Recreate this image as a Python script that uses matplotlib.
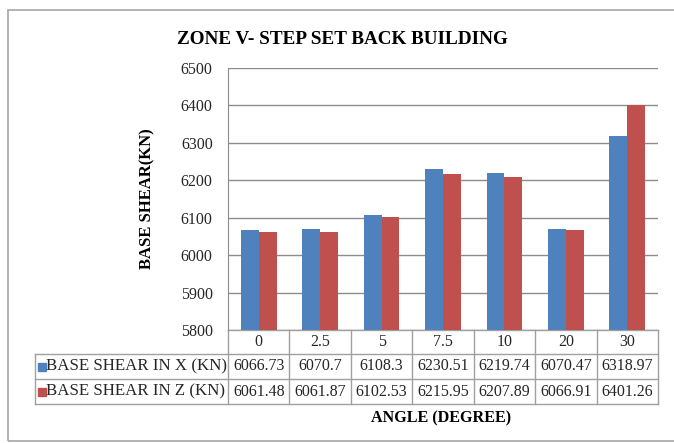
import numpy as np
import matplotlib.pyplot as plt
from matplotlib.patches import Rectangle

angles = ['0', '2.5', '5', '7.5', '10', '20', '30']
shear_x = [6066.73, 6070.7, 6108.3, 6230.51, 6219.74, 6070.47, 6318.97]
shear_z = [6061.48, 6061.87, 6102.53, 6215.95, 6207.89, 6066.91, 6401.26]
series_names = ['BASE SHEAR IN X (KN)', 'BASE SHEAR IN Z (KN)']
series_colors = ['#4F81BD', '#C0504D']
y_ticks = [5800, 5900, 6000, 6100, 6200, 6300, 6400, 6500]

plt.rcParams['font.family'] = ['Liberation Serif', 'DejaVu Serif']

W, H = 674, 443
fig = plt.figure(figsize=(W / 100, H / 100), dpi=100)

# outer chart border
fig.patches.append(Rectangle((8 / W, 1 - 441 / H), 700 / W, (441 - 10) / H,
                             transform=fig.transFigure, fill=False,
                             edgecolor='#a6a6a6', linewidth=1.2))

left, right, top, bottom = 228, 658, 68, 330
ax = fig.add_axes([left / W, 1 - bottom / H, (right - left) / W, (bottom - top) / H])

x = np.arange(len(angles))
bw = 0.29
ax.bar(x - bw / 2, shear_x, bw, color=series_colors[0], zorder=3)
ax.bar(x + bw / 2, shear_z, bw, color=series_colors[1], zorder=3)

ax.set_xlim(-0.5, len(angles) - 0.5)
ax.set_ylim(y_ticks[0], y_ticks[-1])
ax.set_yticks(y_ticks)
ax.tick_params(axis='y', length=0, pad=11, labelsize=11.5, labelcolor='#262626')
ax.set_xticks([])
ax.yaxis.grid(True, color='#8c8c8c', linewidth=1)
for s in ['top', 'right', 'bottom']:
    ax.spines[s].set_visible(False)
ax.spines['left'].set_color('#8c8c8c')

ax.set_title('ZONE V- STEP SET BACK BUILDING', fontsize=13.8, fontweight='bold',
             x=(342 - left) / (right - left), y=1.0, pad=17)
ax.set_ylabel('BASE SHEAR(KN)', fontsize=12, fontweight='bold', labelpad=18)

# data table below the axes
tr = ax.get_xaxis_transform()
ph = bottom - top
colw = (right - left) / len(angles)
rows_y = [0, -24 / ph, -49 / ph, -74 / ph]
tab_left = -0.5 - (left - 35) / colw
line_kw = dict(color='#a0a0a0', linewidth=1, transform=tr, clip_on=False)

ax.plot([-0.5, len(angles) - 0.5], [rows_y[0]] * 2, **line_kw)
for yy in rows_y[1:]:
    ax.plot([tab_left, len(angles) - 0.5], [yy] * 2, **line_kw)
for i in range(len(angles) + 1):
    ax.plot([i - 0.5] * 2, [rows_y[0], rows_y[3]], **line_kw)
ax.plot([tab_left] * 2, [rows_y[1], rows_y[3]], **line_kw)

fs = 11.5
for i, a in enumerate(angles):
    ax.text(i, (rows_y[0] + rows_y[1]) / 2, a, transform=tr, ha='center',
            va='center', fontsize=fs, color='#262626', clip_on=False)
for r, vals in enumerate([shear_x, shear_z]):
    yc = (rows_y[r + 1] + rows_y[r + 2]) / 2
    for i, v in enumerate(vals):
        ax.text(i, yc, f'{v:g}', transform=tr, ha='center', va='center',
                fontsize=fs, color='#262626', clip_on=False)
    ax.add_patch(Rectangle((tab_left + 3 / colw, yc - 4 / ph), 8 / colw, 8 / ph,
                           transform=tr, color=series_colors[r], clip_on=False))
    ax.text(tab_left + 11 / colw, yc, series_names[r], transform=tr, ha='left',
            va='center', fontsize=12.2, color='#262626', clip_on=False)

fig.text(441 / W, 1 - 418 / H, 'ANGLE (DEGREE)', ha='center', va='center',
         fontsize=11.6, fontweight='bold')

fig.savefig('out.png', dpi=100)
